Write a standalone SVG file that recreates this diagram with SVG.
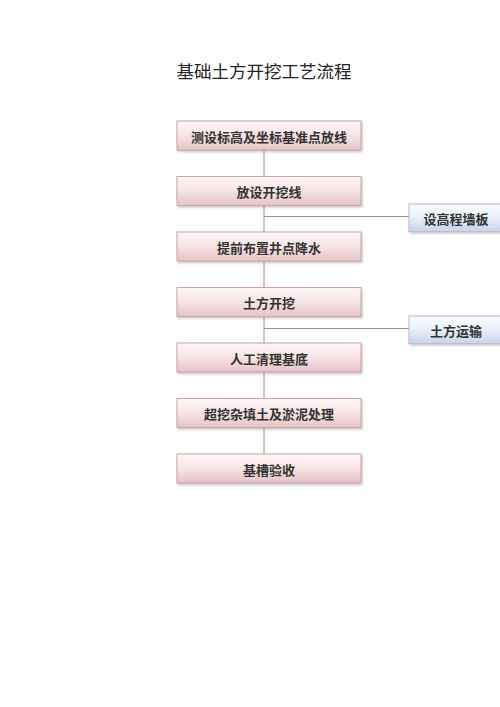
<svg xmlns="http://www.w3.org/2000/svg" width="500" height="707" viewBox="0 0 500 707">
<defs>
<linearGradient id="gp" x1="0" y1="0" x2="0" y2="1">
<stop offset="0" stop-color="#fdf7f7"/>
<stop offset="0.5" stop-color="#f6e4e5"/>
<stop offset="1" stop-color="#e6c3c6"/>
</linearGradient>
<linearGradient id="gb" x1="0" y1="0" x2="0" y2="1">
<stop offset="0" stop-color="#fbfcfe"/>
<stop offset="0.5" stop-color="#e9eef7"/>
<stop offset="1" stop-color="#c8d4ea"/>
</linearGradient>
<filter id="sh" x="-5%" y="-20%" width="110%" height="150%">
<feDropShadow dx="1" dy="1.5" stdDeviation="0.8" flood-color="#888" flood-opacity="0.5"/>
</filter>
</defs>
<style>
.m{fill:url(#gp);stroke:#c9a4a8;stroke-width:1;filter:url(#sh)}
.s{fill:url(#gb);stroke:#b4c0d6;stroke-width:1;filter:url(#sh)}
.t{font-family:"Noto Sans CJK SC",sans-serif;font-size:13px;font-weight:bold;fill:#333;text-anchor:middle;dominant-baseline:central}
.ttl{font-family:"Noto Sans CJK SC",sans-serif;font-size:17.5px;fill:#222;text-anchor:middle}
.c{stroke:#a08a8c;stroke-width:1;fill:none}
</style>
<text class="ttl" x="264" y="78">基础土方开挖工艺流程</text>
<g id="connectors">
<line class="c" x1="264" y1="150" x2="264" y2="454"/>
<line class="c" x1="264" y1="216.5" x2="409" y2="216.5"/>
<line class="c" x1="264" y1="328.5" x2="409" y2="328.5"/>
</g>
<g id="n1"><rect class="m" x="177" y="121" width="184" height="29"/><text class="t" x="269" y="136">测设标高及坐标基准点放线</text></g>
<g id="n2"><rect class="m" x="177" y="176.5" width="184" height="29"/><text class="t" x="269" y="191.5">放设开挖线</text></g>
<g id="n3"><rect class="m" x="177" y="232" width="184" height="29"/><text class="t" x="269" y="247">提前布置井点降水</text></g>
<g id="n4"><rect class="m" x="177" y="287.5" width="184" height="29"/><text class="t" x="269" y="302.5">土方开挖</text></g>
<g id="n5"><rect class="m" x="177" y="343" width="184" height="29"/><text class="t" x="269" y="358">人工清理基底</text></g>
<g id="n6"><rect class="m" x="177" y="398.5" width="184" height="29"/><text class="t" x="269" y="413.5">超挖杂填土及淤泥处理</text></g>
<g id="n7"><rect class="m" x="177" y="454" width="184" height="29"/><text class="t" x="269" y="469">基槽验收</text></g>
<g id="s1"><rect class="s" x="409" y="204" width="94" height="27.5"/><text class="t" x="456" y="218">设高程墙板</text></g>
<g id="s2"><rect class="s" x="409" y="316" width="94" height="27.5"/><text class="t" x="456" y="330">土方运输</text></g>
</svg>
